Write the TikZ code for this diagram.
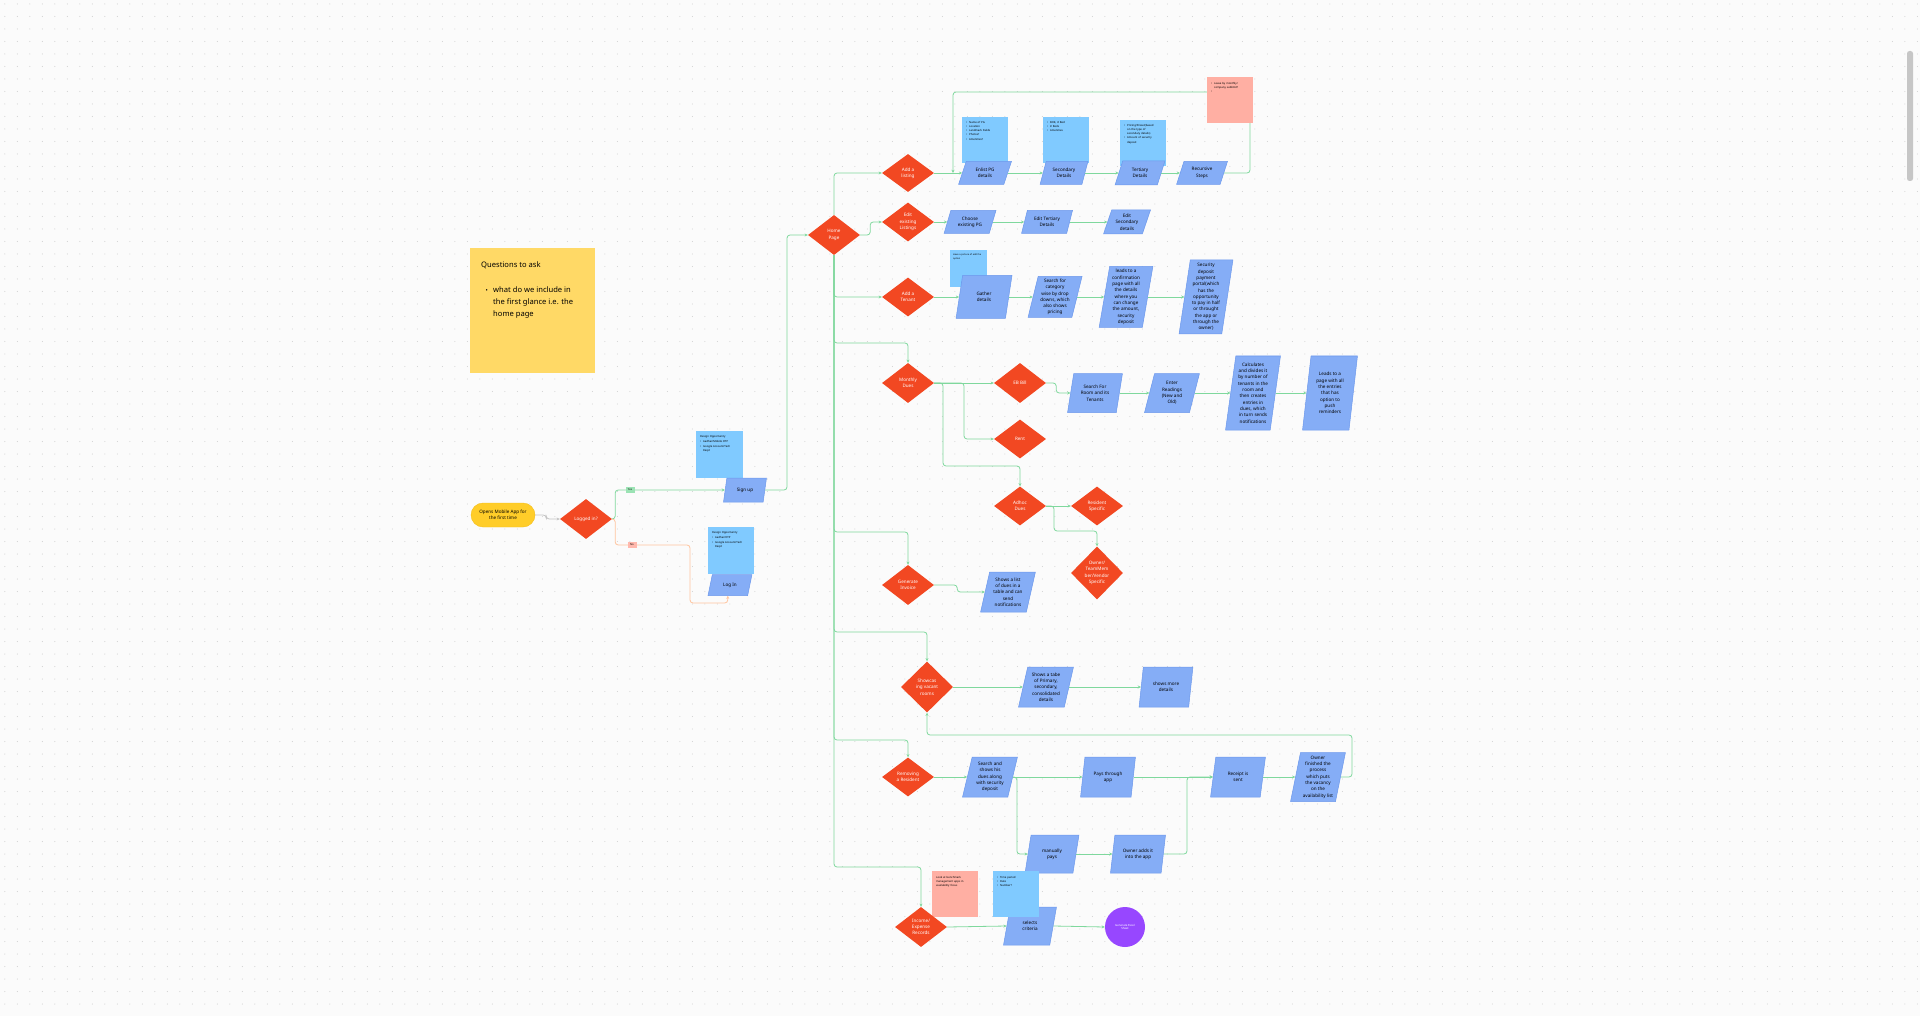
\documentclass[tikz,border=0pt]{standalone}
\usepackage{fontspec}
\setmainfont{Noto Sans}
\usetikzlibrary{shapes.geometric,arrows.meta,calc}
\pgfdeclarelayer{bg}\pgfdeclarelayer{conn}\pgfdeclarelayer{notes}\pgfdeclarelayer{top}
\pgfsetlayers{bg,conn,notes,main,top}
\definecolor{canvas}{HTML}{FBFBFB}
\definecolor{dotc}{HTML}{CFCFCF}
\definecolor{dred}{HTML}{F24822}
\definecolor{pfill}{HTML}{85ADF6}
\definecolor{pline}{HTML}{6C98EC}
\definecolor{cgreen}{HTML}{7FD89D}
\definecolor{nblue}{HTML}{80CAFF}
\definecolor{npink}{HTML}{FFAFA3}
\definecolor{nyellow}{HTML}{FFD966}
\definecolor{pillc}{HTML}{FFCD29}
\definecolor{pillb}{HTML}{F5BE1A}
\definecolor{purp}{HTML}{9747FF}
\definecolor{cgray}{HTML}{C4C4C4}
\definecolor{corange}{HTML}{FFC49E}
\definecolor{yesc}{HTML}{9BE3B4}
\definecolor{noc}{HTML}{FFB8AD}
\newcommand\shapefont{\fontsize{4.6}{6.3}\selectfont}
\newcommand\notefont{\fontsize{2.7}{4.2}\selectfont}
\newcommand\nbul{\makebox[3pt][l]{\textbullet}}
\newcommand\nind{\hspace*{3pt}}
\tikzset{
  dia/.style args={#1/#2}{shape=diamond, fill=dred, draw=none, minimum width=#1, minimum height=#2, inner sep=0pt, align=center, font=\shapefont, text=white},
  pbox/.style={shape=trapezium, trapezium stretches=true, fill=pfill, draw=pline, line width=0.5pt, inner sep=0pt, align=center, font=\shapefont},
  pg/.code args={#1/#2/#3}{\pgfmathsetmacro\plang{atan(#2/#3)}\pgfmathsetmacro\prang{180-\plang}\edef\pgtmp{\noexpand\pgfkeysalso{/pgf/trapezium left angle=\plang,/pgf/trapezium right angle=\prang,/pgf/minimum width=#1pt,/pgf/minimum height=#2pt}}\pgtmp},
  nbg/.style={fill=#1, anchor=north west, inner sep=0pt, minimum width=46, minimum height=46},
  ntx/.style={anchor=north west, inner sep=0pt, align=left, font=\notefont, text width=40},
  conn/.style={draw=cgreen, line width=0.8pt, rounded corners=3pt, -{Stealth[length=3.2pt,width=3pt]}},
  lab/.style={inner sep=0pt, minimum width=9, minimum height=6, font=\fontsize{2.6}{3}\selectfont}
}
\begin{document}
\begin{tikzpicture}[x=1pt,y=-1pt]
\useasboundingbox (0,0) rectangle (1920,1016);
\begin{pgfonlayer}{bg}
\fill[canvas] (0,0) rectangle (1920,1016);
\foreach \yy in {4,16.5,...,1016} \draw[dotc, line width=1.1pt, line cap=round, dash pattern=on 0pt off 12.5pt] (4.8,\yy) -- (1920,\yy);
\fill[gray!45, rounded corners=2.5pt] (1907,51) rectangle (1913,181);
\end{pgfonlayer}

% ---------- start ----------
\node[fill=pillc, draw=pillb, line width=0.4pt, rounded corners=12pt, minimum width=64, minimum height=24, inner sep=0pt, align=center, font=\shapefont] (start) at (503,515) {Opens Mobile App for\\the first time};
\node[dia=52/40] (logged) at (586,519) {Logged in?};
\node[pbox, pg=43/24/8] (signup) at (745,490) {Sign up};
\node[pbox, pg=44/21/8] (login) at (730,585) {Log In};
\node[dia=52/40] (home) at (834,235) {Home\\Page};

% ---------- listing rows ----------
\node[dia=52/38] (addlist) at (908,173) {Add a\\listing};
\node[pbox, pg=53/23/9] (enlist) at (985,173) {Enlist PG\\details};
\node[pbox, pg=48/23/9] (secondary) at (1064,173) {Secondary\\Details};
\node[pbox, pg=50/24/9] (tertiary) at (1140,173) {Tertiary\\Details};
\node[pbox, pg=51/23/9] (recursive) at (1202,173) {Recursive\\Steps};

\node[dia=52/39] (editlist) at (908,222) {Edit\\existing\\Listings};
\node[pbox, pg=52/23/9] (choose) at (970,222) {Choose\\existing PG};
\node[pbox, pg=51/23/9] (edittert) at (1047,222) {Edit Tertiary\\Details};
\node[pbox, pg=47/24/9] (editsec) at (1127,222) {Edit\\Secondary\\details};

% ---------- tenant ----------
\node[dia=52/39] (addten) at (908,297) {Add a\\Tenant};
\node[pbox, pg=56/43/10] (gather) at (984,297) {Gather\\details};
\node[pbox, pg=54/41/10] (search) at (1055,297) {Search for\\category\\wise by drop\\downs, which\\also shows\\pricing};
\node[pbox, pg=54/61/10] (leads) at (1126,297) {leads to a\\confirmation\\page with all\\the details\\where you\\can change\\the amount,\\security\\deposit};
\node[pbox, pg=54/74/11] (security) at (1206,297) {Security\\deposit\\payment\\portal(which\\has the\\opportunity\\to pay in half\\or throught\\the app or\\through the\\owner)};

% ---------- monthly dues ----------
\node[dia=52/40] (monthly) at (908,383) {Monthly\\Dues};
\node[dia=52/40] (ebbill) at (1020,383) {EB Bill};
\node[pbox, pg=55/39/10] (searchroom) at (1095,393) {Search For\\Room and its\\Tenants};
\node[pbox, pg=55/39/10] (readings) at (1172,393) {Enter\\Readings\\(New and\\Old)};
\node[pbox, pg=55/74/11] (calc) at (1253,393) {Calculates\\and divides it\\by number of\\tenants in the\\room and\\then creates\\entries in\\dues, which\\in turn sends\\notifications};
\node[pbox, pg=55/74/11] (leadspage) at (1330,393) {Leads to a\\page with all\\the entries\\that has\\option to\\push\\reminders};
\node[dia=52/39] (rent) at (1020,439) {Rent};
\node[dia=52/39] (adhoc) at (1020,506) {Adhoc\\Dues};
\node[dia=52/39] (resident) at (1097,506) {Resident\\Specific};
\node[dia=52/53] (owner) at (1097,573) {Owner/\\TeamMem\\ber/Vendor\\Specific};

% ---------- invoice ----------
\node[dia=52/40] (geninv) at (908,585) {Generate\\Invoice};
\node[pbox, pg=55/40/10] (showslist) at (1008,592) {Shows a list\\of dues in a\\table and can\\send\\notifications};

% ---------- showcase ----------
\node[dia=52/51] (showcase) at (927,687) {Showcas\\ing vacant\\rooms};
\node[pbox, pg=55/40/10] (showstable) at (1046,687) {Shows a tabe\\of Primary,\\secondary,\\consolidated\\details};
\node[pbox, pg=54/40/10] (showsmore) at (1166,687) {shows more\\details};

% ---------- removing ----------
\node[dia=52/39] (removing) at (908,777) {Removing\\a Resident};
\node[pbox, pg=55/40/10] (searchdues) at (990,777) {Search and\\shows his\\dues along\\with security\\deposit};
\node[pbox, pg=55/40/10] (paysapp) at (1108,777) {Pays through\\app};
\node[pbox, pg=55/40/10] (receipt) at (1238,777) {Receipt is\\sent};
\node[pbox, pg=55/49/10] (ownerfin) at (1318,777) {Owner\\finished the\\process\\which puts\\the vacancy\\on the\\availability list};
\node[pbox, pg=54/38/10] (manually) at (1052,854) {manually\\pays};
\node[pbox, pg=55/38/10] (owneradds) at (1138,854) {Owner adds it\\into the app};

% ---------- income ----------
\node[dia=52/40] (income) at (921,927) {Income/\\Expense\\Records};
\node[pbox, pg=53/38/10] (selects) at (1030,926) {selects\\criteria};
\node[circle, fill=purp, minimum size=40, inner sep=0pt, align=center, text=white, font=\fontsize{2.8}{3.6}\selectfont] (excel) at (1125,927) {Generate Excel\\Sheet};

% ---------- sticky notes ----------
\begin{pgfonlayer}{notes}
\node[nbg=nyellow, minimum width=125, minimum height=125] (qnote) at (470,248) {};
\node[anchor=north west, inner sep=0pt, font=\fontsize{7.6}{12}\selectfont\bfseries] (qtitle) at (481,262) {Questions to ask};
\node[anchor=base west, inner sep=0pt, font=\fontsize{6}{12}\selectfont] (qbul) at (485.5,292.5) {\textbullet};
\node[anchor=north west, inner sep=0pt, align=left, font=\fontsize{7.6}{12}\selectfont] (qtext) at (493,287) {what do we include in\\the first glance i.e. the\\home page};

\node[nbg=nblue, minimum width=47, minimum height=47] (sunote) at (696,431) {};
\node[ntx] (sunotet) at (700,435) {\textbf{Design Opportunity}\\[1.5pt]\nbul Aadhar/Mobile OTP\\\nbul Google Account/Tech\\\nind Reqd};
\node[nbg=nblue, minimum width=46, minimum height=47] (linote) at (708,527) {};
\node[ntx] (linotet) at (712,531) {\textbf{Design Opportunity}\\[1.5pt]\nbul Aadhar/OTP\\\nbul Google Account/Tech\\\nind Reqd};

\node[nbg=nblue] (ennote) at (962,117) {};
\node[ntx] (ennotet) at (966,121) {\nbul Name of PG\\\nbul Location\\\nbul Landmark Fields\\\nbul Photos?\\\nbul Amenities?};
\node[nbg=nblue] (secnote) at (1043,117) {};
\node[ntx] (secnotet) at (1047,121) {\nbul BHK, \# Bed\\\nbul \# Beds\\\nbul Amenities};
\node[nbg=nblue] (tertnote) at (1120,120) {};
\node[ntx] (tertnotet) at (1124,124) {\nbul Pricing/Preset(based\\\nind on the type of\\\nind secondary details)\\\nbul Amount of security\\\nind deposit};
\node[nbg=npink] (recnote) at (1207,77) {};
\node[ntx] (recnotet) at (1211,82) {\nbul Lease by monthly/\\\nind company sublimit?\\\nbul};
\node[nbg=nblue, minimum width=37, minimum height=37] (tennote) at (950,250) {};
\node[ntx, text width=32, font=\fontsize{2.3}{3.4}\selectfont] (tennotet) at (953,254) {Have a picture of add the\\option};
\node[nbg=npink] (incnote) at (932,871) {};
\node[ntx] (incnotet) at (936,876) {Look at benchmark\\management apps in\\availability focus};
\end{pgfonlayer}
\begin{pgfonlayer}{top}
\node[nbg=nblue] (critnote) at (993,871) {};
\node[ntx] (critnotet) at (997,876) {\nbul Time period\\\nbul Date\\\nbul Number?};
\end{pgfonlayer}

% ---------- connectors ----------
\begin{pgfonlayer}{conn}
\draw[conn, draw=cgray] (start.east) -- ++(11,0) |- (logged.west);
\draw[conn] (logged.east) -- ++(3,0) |- (signup.left side);
\draw[conn, draw=corange] (logged.east) -- ++(3,0) |- (690,545) -- (690,603) -| (login.bottom side);
\draw[conn] (signup.right side) -- (787,490) -- (787,235) -- (home.west);
\draw[conn] (home.north) |- (addlist.west);
\draw[conn] (home.east) -- ++(10,0) |- (editlist.west);
\draw[conn] (home.south) |- (addten.west);
\draw[conn] (home.south) -- (834,343) -| (monthly.north);
\draw[conn] (home.south) -- (834,532) -| (geninv.north);
\draw[conn] (home.south) -- (834,632) -| (showcase.north);
\draw[conn] (home.south) -- (834,740) -| (removing.north);
\draw[conn] (home.south) -- (834,867) -| (income.north);

\draw[conn] (addlist.east) -- (enlist.left side);
\draw[conn] (enlist.right side) -- (secondary.left side);
\draw[conn] (secondary.right side) -- (tertiary.left side);
\draw[conn] (tertiary.right side) -- (recursive.left side);
\draw[conn] (recursive.right side) -- (1250,173) -- (1250,92) -- (953,92) -- (953,173);

\draw[conn] (editlist.east) -- (choose.left side);
\draw[conn] (choose.right side) -- (edittert.left side);
\draw[conn] (edittert.right side) -- (editsec.left side);

\draw[conn] (addten.east) -- (gather.left side);
\draw[conn] (gather.right side) -- (search.left side);
\draw[conn] (search.right side) -- (leads.left side);
\draw[conn] (leads.right side) -- (security.left side);

\draw[conn] (monthly.east) -- (ebbill.west);
\draw[conn] (monthly.east) -- (964,383) |- (rent.west);
\draw[conn] (monthly.east) -- (943,383) -- (943,466) -| (adhoc.north);
\draw[conn] (ebbill.east) -- ++(10,0) |- (searchroom.left side);
\draw[conn] (searchroom.right side) -- (readings.left side);
\draw[conn] (readings.right side) -- (calc.left side);
\draw[conn] (calc.right side) -- (leadspage.left side);
\draw[conn] (adhoc.east) -- (resident.west);
\draw[conn] (adhoc.east) -- (1054,506) -- (1054,531) -| (owner.north);

\draw[conn] (geninv.east) -- ++(23,0) |- (showslist.left side);

\draw[conn] (showcase.east) -- (showstable.left side);
\draw[conn] (showstable.right side) -- (showsmore.left side);

\draw[conn] (removing.east) -- (searchdues.left side);
\draw[conn] (searchdues.right side) -- (paysapp.left side);
\draw[conn] (searchdues.right side) -- ++(4,0) |- (manually.left side);
\draw[conn] (manually.right side) -- (owneradds.left side);
\draw[conn] (owneradds.right side) -- (1187,854) -- (1187,777) -- (receipt.left side);
\draw[conn] (paysapp.right side) -- (receipt.left side);
\draw[conn] (receipt.right side) -- (ownerfin.left side);
\draw[conn] (ownerfin.right side) -- (1352,777) -- (1352,735) -| (showcase.south);

\draw[conn] (income.east) -- (selects.left side);
\draw[conn] (selects.right side) -- (excel.west);
\end{pgfonlayer}

\begin{pgfonlayer}{top}
\node[lab, fill=yesc] (yes) at (630,490) {Yes};
\node[lab, fill=noc] (no) at (632,545) {No};
\end{pgfonlayer}
\end{tikzpicture}
\end{document}
